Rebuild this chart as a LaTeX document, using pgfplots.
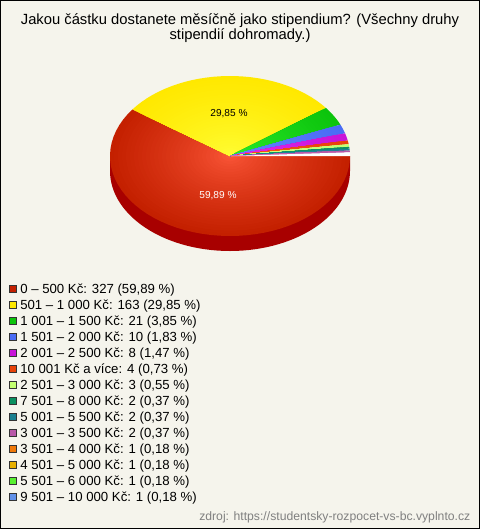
\documentclass[border=0pt]{standalone}
\usepackage{pgfplots}
\pgfplotsset{compat=1.18}
\usepackage{fontspec}
\setmainfont{Liberation Sans}
\definecolor{bg}{HTML}{F5F4EC}
\definecolor{side}{HTML}{A80000}
\definecolor{c1}{HTML}{C42000}\definecolor{h1}{HTML}{FF5A3C}
\definecolor{c2}{HTML}{FFE800}\definecolor{h2}{HTML}{FFFF38}
\definecolor{c3}{HTML}{0CC40C}\definecolor{h3}{HTML}{30F030}
\definecolor{c4}{HTML}{4A6CF5}\definecolor{h4}{HTML}{6A8CFF}
\definecolor{c5}{HTML}{C814D8}\definecolor{h5}{HTML}{E830F0}
\definecolor{c6}{HTML}{E84208}\definecolor{h6}{HTML}{FF6020}
\definecolor{c7}{HTML}{C4FF70}\definecolor{h7}{HTML}{D4FF90}
\definecolor{c8}{HTML}{0A9060}\definecolor{h8}{HTML}{10A070}
\definecolor{c9}{HTML}{1A8090}\definecolor{h9}{HTML}{2090A0}
\definecolor{c10}{HTML}{B858A8}\definecolor{h10}{HTML}{C868B8}
\definecolor{c11}{HTML}{F07808}\definecolor{c12}{HTML}{E8B000}\definecolor{c13}{HTML}{58F030}\definecolor{c14}{HTML}{6090E8}
% one sector of the pie, from value a to value b of 546 answers
\newcommand{\sector}[5]{% from, to, colour, radius factor, steps
  \gdef\coords{(230,156)}%
  \foreach \i in {0,...,#5}{%
    \pgfmathsetmacro{\ang}{(#1+(#2-#1)*(\i/#5))*0.659341}%
    \pgfmathsetmacro{\px}{230+120*#4*cos(\ang)}%
    \pgfmathsetmacro{\py}{156+80*#4*sin(\ang)}%
    \xdef\coords{\coords (\px,\py)}%
  }%
  \edef\doit{\noexpand\addplot[fill={#3},draw=none,forget plot] coordinates {\coords} -- cycle;}%
  \doit
}
% nested sectors give the glow from the centre
\newcommand{\slice}[5]{% from, to, rim colour, centre colour, steps
  \foreach \k in {0,...,29}{%
    \pgfmathsetmacro{\f}{1-\k/30}%
    \pgfmathsetmacro{\m}{100*\f^0.7}%
    \sector{#1}{#2}{#3!\m!#4}{\f}{#5}%
  }%
}
% side wall: the front half of the rim, 15 px deep
\newcommand{\sidewall}{%
  \gdef\coords{(350,156)}%
  \foreach \i in {0,...,60}{%
    \pgfmathsetmacro{\ang}{\i*3}%
    \pgfmathsetmacro{\px}{230+120*cos(\ang)}%
    \pgfmathsetmacro{\py}{171+80*sin(\ang)}%
    \xdef\coords{\coords (\px,\py)}%
  }%
  \edef\doit{\noexpand\addplot[fill=side,draw=none,forget plot] coordinates {\coords (110,156)} -- cycle;}%
  \doit
}
\newcommand{\leg}[3]{% y, colour, text
  \addplot[only marks,mark=square*,mark size=2.7pt,mark options={fill=#2,draw=black!80,line width=0.5pt},forget plot] coordinates {(13,#1)};
  \node[anchor=west,inner sep=0pt,font=\fontsize{9.9pt}{11pt}\selectfont] at (axis cs:20,#1+1.2) {#3};
}
\begin{document}
\begin{tikzpicture}
\begin{axis}[
  scale only axis, width=360pt, height=396.75pt,
  xmin=0,xmax=480,ymin=0,ymax=529,y dir=reverse,
  axis lines=none, clip=true,
]
% background and frame
\addplot[fill=bg,draw=black,line width=0.75pt,forget plot] coordinates {(0.5,0.5) (479.5,0.5) (479.5,528.5) (0.5,528.5)} -- cycle;
\sidewall
\slice{0}{327}{c1}{h1}{50}
\slice{327}{490}{c2}{h2}{30}
\slice{490}{511}{c3}{h3}{6}
\slice{511}{521}{c4}{h4}{4}
\slice{521}{529}{c5}{h5}{3}
\slice{529}{533}{c6}{h6}{2}
\slice{533}{536}{c7}{h7}{2}
\slice{536}{538}{c8}{h8}{2}
\slice{538}{540}{c9}{h9}{2}
\slice{540}{542}{c10}{h10}{2}
\sector{542}{546}{white}{1}{2}
\leg{289}{c1}{0 – 500 Kč: 327 (59,89 \%)}
\leg{305}{c2}{501 – 1 000 Kč: 163 (29,85 \%)}
\leg{321}{c3}{1 001 – 1 500 Kč: 21 (3,85 \%)}
\leg{337}{c4}{1 501 – 2 000 Kč: 10 (1,83 \%)}
\leg{353}{c5}{2 001 – 2 500 Kč: 8 (1,47 \%)}
\leg{369}{c6}{10 001 Kč a více: 4 (0,73 \%)}
\leg{385}{c7}{2 501 – 3 000 Kč: 3 (0,55 \%)}
\leg{401}{c8}{7 501 – 8 000 Kč: 2 (0,37 \%)}
\leg{417}{c9}{5 001 – 5 500 Kč: 2 (0,37 \%)}
\leg{433}{c10}{3 001 – 3 500 Kč: 2 (0,37 \%)}
\leg{449}{c11}{3 501 – 4 000 Kč: 1 (0,18 \%)}
\leg{465}{c12}{4 501 – 5 000 Kč: 1 (0,18 \%)}
\leg{481}{c13}{5 501 – 6 000 Kč: 1 (0,18 \%)}
\leg{497}{c14}{9 501 – 10 000 Kč: 1 (0,18 \%)}
\node[font=\fontsize{11.08pt}{11.3pt}\selectfont,align=center] at (axis cs:240,28.5) {Jakou částku dostanete měsíčně jako stipendium? (Všechny druhy\\stipendií dohromady.)};
\node[font=\fontsize{7.6pt}{9pt}\selectfont,text=black] at (axis cs:229,113.5) {29,85 \%};
\node[font=\fontsize{7.6pt}{9pt}\selectfont,text=white] at (axis cs:218,195.5) {59,89 \%};
\node[font=\fontsize{9.15pt}{10pt}\selectfont,text=black!50,anchor=east] at (axis cs:475,517) {zdroj: https://studentsky-rozpocet-vs-bc.vyplnto.cz};
\end{axis}
\end{tikzpicture}
\end{document}
